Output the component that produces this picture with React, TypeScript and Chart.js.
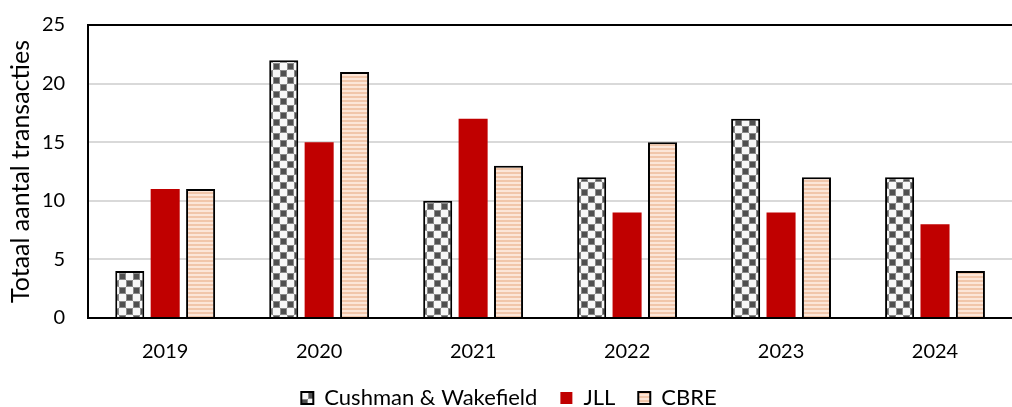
import React, { useEffect, useRef } from "react";
import { Chart, registerables } from "chart.js";

Chart.register(...registerables);

const categories = ["2019", "2020", "2021", "2022", "2023", "2024"];
const cushmanValues = [4, 22, 10, 12, 17, 12];
const jllValues = [11, 15, 17, 9, 9, 8];
const cbreValues = [11, 21, 13, 15, 12, 4];
const seriesNames = ["Cushman & Wakefield", "JLL", "CBRE"];
const yAxisTitle = "Totaal aantal transacties";

function makeChecker(): CanvasPattern | string {
  const c = document.createElement("canvas");
  const s = 7;
  c.width = s * 2;
  c.height = s * 2;
  const g = c.getContext("2d");
  if (!g) return "#666";
  g.fillStyle = "#f7f7f7";
  g.fillRect(0, 0, s * 2, s * 2);
  const sq = (x: number, y: number) => {
    g.fillStyle = "#8a8a8a";
    g.fillRect(x, y, s, s);
    g.fillStyle = "#4f4f4f";
    g.fillRect(x + 1, y + 1, s - 2, s - 2);
  };
  sq(0, 0);
  sq(s, s);
  return g.createPattern(c, "repeat") || "#666";
}

function makeStripes(): CanvasPattern | string {
  const c = document.createElement("canvas");
  c.width = 4;
  c.height = 4;
  const g = c.getContext("2d");
  if (!g) return "#f8d8c2";
  g.fillStyle = "#fce6d8";
  g.fillRect(0, 0, 4, 4);
  g.fillStyle = "#f1c6aa";
  g.fillRect(0, 0, 4, 2);
  return g.createPattern(c, "repeat") || "#f8d8c2";
}

export default function App() {
  const ref = useRef<HTMLCanvasElement | null>(null);

  useEffect(() => {
    document.body.style.margin = "0";
    if (!ref.current) return;
    const font = "Lato, 'Noto Sans', sans-serif";
    const chart = new Chart(ref.current, {
      type: "bar",
      data: {
        labels: categories,
        datasets: [
          {
            label: seriesNames[0],
            data: cushmanValues,
            backgroundColor: makeChecker(),
            borderColor: "#000",
            borderWidth: 2,
          },
          {
            label: seriesNames[1],
            data: jllValues,
            backgroundColor: "#c00000",
            borderColor: "#c00000",
            borderWidth: 0,
          },
          {
            label: seriesNames[2],
            data: cbreValues,
            backgroundColor: makeStripes(),
            borderColor: "#000",
            borderWidth: 2,
          },
        ],
      },
      options: {
        responsive: false,
        animation: false,
        layout: { padding: { left: 6, right: 0, top: 25, bottom: -12 } },
        datasets: {
          bar: { categoryPercentage: 0.69, barPercentage: 0.82 },
        },
        plugins: {
          legend: {
            position: "bottom",
            labels: {
              color: "#000",
              font: { family: font, size: 22 },
              boxWidth: 12,
              boxHeight: 12,
              padding: 23,
            },
          },
          tooltip: { enabled: false },
        },
        scales: {
          x: {
            grid: { display: false, drawTicks: true, tickLength: 22, tickColor: "rgba(0,0,0,0)" },
            border: { color: "#000", width: 2 },
            ticks: { color: "#000", font: { family: font, size: 20 }, padding: 0 },
          },
          y: {
            min: 0,
            max: 25,
            ticks: { stepSize: 5, color: "#000", font: { family: font, size: 20 }, padding: 0 },
            grid: {
              drawTicks: true,
              tickLength: 23,
              tickColor: "rgba(0,0,0,0)",
              lineWidth: 2,
              color: (ctx: any) => (ctx.tick && ctx.tick.value === 25 ? "#000" : "#d9d9d9"),
            },
            border: { color: "#000", width: 2 },
            title: {
              display: true,
              text: yAxisTitle,
              color: "#000",
              font: { family: font, size: 25 },
              padding: { top: 0, bottom: 6 },
            },
          },
        },
      },
    });
    return () => chart.destroy();
  }, []);

  return (
    <div style={{ position: "absolute", left: 0, top: 0, width: 1012, height: 407, overflow: "hidden" }}>
      <canvas ref={ref} width={1012} height={407} />
    </div>
  );
}
